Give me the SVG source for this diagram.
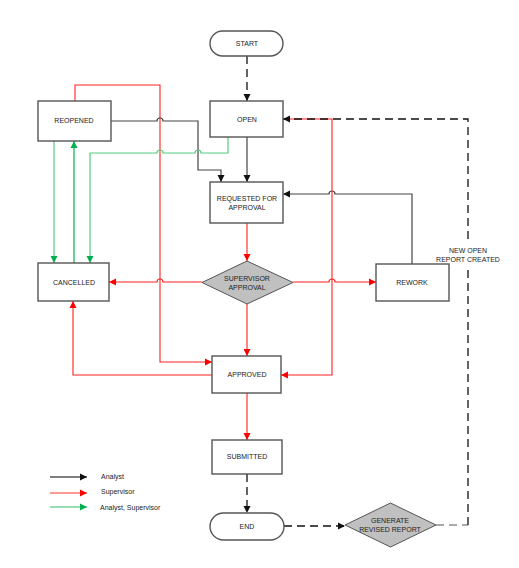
<svg xmlns="http://www.w3.org/2000/svg" width="519" height="568" viewBox="0 0 519 568">
<style>
text{font-family:"Liberation Sans",Arial,sans-serif;font-size:7px;fill:#222;text-anchor:middle;dominant-baseline:central}
.box{fill:#fff;stroke:#555;stroke-width:1.4}
.dia{fill:#c0c0c0;stroke:#555;stroke-width:1}
.k{fill:none;stroke:#444;stroke-width:1.2}
.r{fill:none;stroke:#ff2020;stroke-width:1.1}
.g{fill:none;stroke:#55cc80;stroke-width:1.2}
.gd{fill:none;stroke:#00b050;stroke-width:1.2}
.d{fill:none;stroke:#111;stroke-width:1.3;stroke-dasharray:8,5}
.dl{fill:none;stroke:#555;stroke-width:1;stroke-dasharray:8,5}
</style>
<defs>
<marker id="ak" markerWidth="8" markerHeight="8" refX="7" refY="4" orient="auto" markerUnits="userSpaceOnUse"><path d="M0,0.5 L7,4 L0,7.5z" fill="#111"/></marker>
<marker id="ar" markerWidth="8" markerHeight="8" refX="7" refY="4" orient="auto" markerUnits="userSpaceOnUse"><path d="M0,0.5 L7,4 L0,7.5z" fill="#ff0000"/></marker>
<marker id="ag" markerWidth="8" markerHeight="8" refX="7" refY="4" orient="auto" markerUnits="userSpaceOnUse"><path d="M0,0.5 L7,4 L0,7.5z" fill="#00b050"/></marker>
</defs>
<rect width="519" height="568" fill="#fff"/>
<g id="connectors">
<path class="d" d="M247,56 V101" marker-end="url(#ak)"/>
<path class="k" d="M247,137 V182" marker-end="url(#ak)"/>
<path class="r" d="M75,101 V85 H160 V362 H212" marker-end="url(#ar)"/>
<path class="k" d="M111,121 H157 a3,3 0 0 1 6,0 H198 V170 H221 V182" marker-end="url(#ak)"/>
<path class="g" d="M228,137 V153 H201 a3,3 0 0 0 -6,0 H163 a3,3 0 0 0 -6,0 H90 V263" marker-end="url(#ag)"/>
<path class="g" d="M54,141 V263" marker-end="url(#ag)"/>
<path class="gd" d="M74,263 V141" marker-end="url(#ag)"/>
<path class="r" d="M247,223 V261" marker-end="url(#ar)"/>
<path class="r" d="M202,282 H163 a3,3 0 0 0 -6,0 H109" marker-end="url(#ar)"/>
<path class="r" d="M293,282 H329 a3,3 0 0 1 6,0 H376" marker-end="url(#ar)"/>
<path class="k" d="M412,264 V194 H335 a3,3 0 0 0 -6,0 H283" marker-end="url(#ak)"/>
<path class="r" d="M247,304 V356" marker-end="url(#ar)"/>
<path class="r" d="M212,375 H73 V301" marker-end="url(#ar)"/>
<path class="r" d="M283,119 H332 V375 H281" marker-end="url(#ar)"/>
<path class="r" d="M247,393 V440" marker-end="url(#ar)"/>
<path class="d" d="M247,474 V513" marker-end="url(#ak)"/>
<path class="d" d="M284,526 H345" marker-end="url(#ak)"/>
<path class="dl" d="M436,525 H468"/>
<path class="d" d="M468,525 V119 H283" marker-end="url(#ak)"/>
<rect x="440" y="244" width="64" height="21" fill="#fff"/>
<text x="468" y="250">NEW OPEN</text>
<text x="468" y="259">REPORT CREATED</text>
</g>
<g id="start"><rect class="box" x="210" y="31" width="73" height="25" rx="12.5"/><text x="247" y="43">START</text></g>
<g id="open"><rect class="box" x="210" y="101" width="73" height="36"/><text x="247" y="119">OPEN</text></g>
<g id="reopened"><rect class="box" x="38" y="101" width="73" height="40"/><text x="74" y="120">REOPENED</text></g>
<g id="requested"><rect class="box" x="210" y="182" width="73" height="41"/><text x="247" y="198">REQUESTED FOR</text><text x="247" y="207">APPROVAL</text></g>
<g id="cancelled"><rect class="box" x="38" y="263" width="71" height="38"/><text x="74" y="282">CANCELLED</text></g>
<g id="supervisor"><path class="dia" d="M247,261 L293,282.5 L247,304 L202,282.5z"/><text x="247" y="278">SUPERVISOR</text><text x="247" y="287">APPROVAL</text></g>
<g id="rework"><rect class="box" x="376" y="264" width="73" height="37"/><text x="412" y="282">REWORK</text></g>
<g id="approved"><rect class="box" x="212" y="356" width="69" height="37"/><text x="247" y="374">APPROVED</text></g>
<g id="submitted"><rect class="box" x="212" y="440" width="70" height="34"/><text x="247" y="456">SUBMITTED</text></g>
<g id="end"><rect class="box" x="210" y="513" width="74" height="27" rx="13.5"/><text x="247" y="526">END</text></g>
<g id="generate"><path class="dia" d="M390.5,503 L436,525 L390.5,547 L345,525z"/><text x="390" y="520.5">GENERATE</text><text x="390" y="529.5">REVISED REPORT</text></g>
<g id="legend">
<path d="M50,477 H87" stroke="#555" stroke-width="1.5" marker-end="url(#ak)"/>
<text x="101" y="476" style="text-anchor:start">Analyst</text>
<path d="M50,493 H87" stroke="#ff3030" stroke-width="1.2" marker-end="url(#ar)"/>
<text x="101" y="491" style="text-anchor:start">Supervisor</text>
<path d="M50,507 H87" stroke="#33bb66" stroke-width="1" marker-end="url(#ag)"/>
<text x="100" y="507" style="text-anchor:start">Analyst, Supervisor</text>
</g>
</svg>
